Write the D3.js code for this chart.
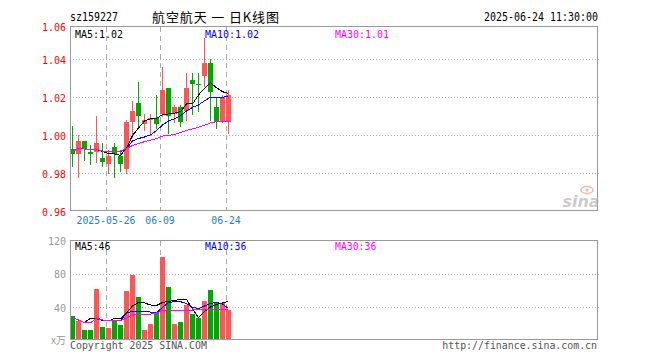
<!DOCTYPE html>
<html><head><meta charset="utf-8">
<script src="https://cdn.jsdelivr.net/npm/d3@7"></script>
<style>body{margin:0;background:#fff}svg{display:block}</style>
</head><body><svg id="c" width="660" height="360"></svg>
<script>
// ---------- data ----------
const code = "sz159227";
const title = "航空航天 一 日K线图";
const stamp = "2025-06-24 11:30:00";
const dates = ["2025-05-16","2025-05-19","2025-05-20","2025-05-21","2025-05-22","2025-05-23","2025-05-26","2025-05-27","2025-05-28","2025-05-29","2025-05-30","2025-06-03","2025-06-04","2025-06-05","2025-06-06","2025-06-09","2025-06-10","2025-06-11","2025-06-12","2025-06-13","2025-06-16","2025-06-17","2025-06-18","2025-06-19","2025-06-20","2025-06-23","2025-06-24"];
const open  = [0.993,0.990,0.997,0.991,0.991,0.988,0.985,0.994,0.989,0.982,1.007,1.017,1.006,1.008,1.009,1.011,1.025,1.011,1.015,1.013,1.029,1.027,1.031,1.038,1.015,1.007,1.007];
const close = [0.990,0.997,0.993,0.990,0.996,0.986,0.989,0.990,0.985,1.007,1.013,1.010,1.008,1.009,1.006,1.024,1.010,1.015,1.007,1.025,1.027,1.027,1.038,1.023,1.007,1.020,1.021];
const high  = [1.005,1.000,0.997,0.995,1.010,0.996,0.992,0.996,0.992,1.008,1.018,1.028,1.011,1.011,1.021,1.036,1.025,1.016,1.016,1.033,1.033,1.033,1.051,1.040,1.020,1.021,1.024];
const low   = [0.984,0.978,0.987,0.985,0.986,0.984,0.980,0.978,0.981,0.980,0.999,1.005,1.003,1.000,1.004,1.010,1.001,1.007,1.005,1.008,1.011,1.013,1.026,1.008,1.004,1.007,1.001];
const ma5   = [0.9912,0.9932,0.9928,0.9926,0.9926,0.9914,0.9904,0.9902,0.9894,0.9933,0.9999,1.0038,1.0075,1.0086,1.0088,1.0109,1.0112,1.0117,1.0124,1.0165,1.0165,1.0212,1.0247,1.0277,1.0250,1.0229,1.0221];
const ma10  = [0.9912,0.9932,0.9928,0.9926,0.9926,0.9917,0.9914,0.9914,0.9915,0.9928,0.9970,0.9983,0.9991,1.0002,1.0025,1.0054,1.0075,1.0086,1.0102,1.0128,1.0147,1.0159,1.0182,1.0200,1.0200,1.0200,1.0207];
const ma30  = [0.9912,0.9932,0.9928,0.9926,0.9926,0.9917,0.9914,0.9914,0.9915,0.9931,0.9946,0.9957,0.9966,0.9974,0.9983,0.9996,1.0000,1.0004,1.0015,1.0025,1.0034,1.0042,1.0053,1.0065,1.0072,1.0072,1.0072];
const volume = [29.9,24.2,13.1,13.1,62.1,16.7,15.5,24.2,19.1,59.7,78.8,52.5,13.1,20.3,33.8,100.7,64.5,20.3,22.7,43.0,32.6,27.5,47.8,60.9,46.6,45.7,37.0];
const vma5  = [28.1,25.1,22.1,27.1,26.3,24.5,23.9,27.1,27.1,33.4,41.8,46.0,45.4,43.0,42.4,46.0,47.2,48.4,49.6,49.6,38.2,28.1,35.2,40.6,43.6,45.4,47.2];
const vma10 = [28.1,25.1,22.1,21.5,27.5,25.1,24.2,24.2,24.5,33.1,35.8,35.8,35.2,34.6,33.8,40.0,46.0,46.9,46.9,44.8,40.2,38.8,41.8,44.8,46.0,44.2,38.8];
const vma30 = [28.1,25.1,22.1,21.5,27.5,25.1,24.2,24.2,24.5,27.1,32.2,32.2,32.2,32.2,33.4,36.4,36.2,36.2,36.2,36.4,37.0,37.6,37.6,37.9,37.9,37.9,37.6];
const priceMALabels = [1.02, 1.02, 1.01];
const volMALabels = [46, 36, 36];
const maNames = ["MA5","MA10","MA30"];
const priceMin = 0.96, priceTop = 1.0575;
const priceTicks = [0.96, 0.98, 1.00, 1.02, 1.04, priceTop];
const priceGrid = [0.98, 1.00, 1.02, 1.04];
const volTicks = [40, 80, 120];
const volGrid = [40, 80];
const volUnit = "x万";
const dateTicks = ["2025-05-26","2025-06-09","2025-06-24"];
const dateTickLabels = ["2025-05-26","06-09","06-24"];
const copyright = "Copyright 2025 SINA.COM";
const site = "http://finance.sina.com.cn";

// ---------- style ----------
const RED = "#ff5555", GREEN = "#00a800";
const maColors = ["#000000", "#0000ff", "#ff00ff"];
const FRAME = "#999999", GRID = "#aaaaaa";
const MONO = "'DejaVu Sans Mono', monospace";
const L = 70, R = 597, mTop = 26, mBot = 210, vTop = 240, vBot = 339;

const svg = d3.select("#c");
const x = d3.scaleBand().domain(dates).range([69, 69 + 6 * dates.length]).padding(0);
const cx = d => x(d) + 3.5;
const y = d3.scaleLinear().domain([priceMin, priceTop]).range([211.3, 26]);
const vy = d3.scaleLinear().domain([0, 120]).range([341, 240.5]);
const px = v => Math.floor(v) + 0.5;

function mono(sel, size, adv) {
  sel.attr("font-family", MONO).attr("font-size", size + "px");
  if (adv) sel.each(function() {
    const t = d3.select(this).text();
    d3.select(this).attr("textLength", t.length * adv).attr("lengthAdjust", "spacingAndGlyphs");
  });
  return sel;
}

// header
mono(svg.append("text").attr("x", 70).attr("y", 21).text(code), 12, 6);
svg.append("text").attr("x", 152).attr("y", 22).attr("font-family", "'Noto Sans CJK SC', sans-serif")
  .attr("font-size", "13px").attr("textLength", 127).attr("lengthAdjust", "spacing").text(title);
mono(svg.append("text").attr("x", 598).attr("y", 21).attr("text-anchor", "end").text(stamp), 12, 6);

// gridlines
const g = svg.append("g").attr("shape-rendering", "crispEdges");
g.selectAll(".pg").data(priceGrid).join("line")
  .attr("x1", L).attr("x2", R + 2).attr("y1", d => px(y(d))).attr("y2", d => px(y(d)))
  .attr("stroke", GRID).attr("stroke-dasharray", "1,2");
g.selectAll(".vg").data(volGrid).join("line")
  .attr("x1", L).attr("x2", R + 2).attr("y1", d => px(vy(d))).attr("y2", d => px(vy(d)))
  .attr("stroke", GRID).attr("stroke-dasharray", "1,2");
[[mTop, mBot], [vTop, vBot]].forEach(([t, b]) => {
  g.append("g").selectAll("line").data(dateTicks).join("line")
    .attr("x1", d => x(d) + 1.5).attr("x2", d => x(d) + 1.5)
    .attr("y1", t + 1).attr("y2", b)
    .attr("stroke", GRID).attr("stroke-dasharray", "5,4");
});

// candles
const idx = d3.range(dates.length);
const col = i => close[i] > open[i] ? RED : GREEN;
const cg = svg.append("g").attr("shape-rendering", "crispEdges");
cg.selectAll(".wick").data(idx).join("line")
  .attr("x1", i => cx(dates[i])).attr("x2", i => cx(dates[i]))
  .attr("y1", i => Math.round(y(high[i]))).attr("y2", i => Math.round(y(low[i])) + 1)
  .attr("stroke", col);
cg.selectAll(".body").data(idx).join("rect")
  .attr("x", i => x(dates[i]) + 1).attr("width", 5)
  .attr("y", i => Math.round(y(Math.max(open[i], close[i]))))
  .attr("height", i => Math.max(1, Math.round(y(Math.min(open[i], close[i]))) - Math.round(y(Math.max(open[i], close[i])))))
  .attr("fill", col);

// price MA lines
[ma5, ma10, ma30].forEach((arr, k) => {
  svg.append("path").datum(idx)
    .attr("d", d3.line().x(i => cx(dates[i])).y(i => y(arr[i])))
    .attr("fill", "none").attr("stroke", maColors[k]).attr("stroke-width", 1)
    .attr("shape-rendering", "crispEdges");
});

// volume bars
cg.selectAll(".vb").data(idx).join("rect")
  .attr("x", i => x(dates[i]) + 1).attr("width", 5)
  .attr("y", i => Math.round(vy(volume[i])))
  .attr("height", i => vBot + 1 - Math.round(vy(volume[i])))
  .attr("fill", col);
[vma5, vma10, vma30].forEach((arr, k) => {
  svg.append("path").datum(idx)
    .attr("d", d3.line().x(i => cx(dates[i])).y(i => vy(arr[i])))
    .attr("fill", "none").attr("stroke", maColors[k]).attr("stroke-width", 1)
    .attr("shape-rendering", "crispEdges");
});

// frames
const fr = svg.append("g").attr("shape-rendering", "crispEdges").attr("fill", "none").attr("stroke", FRAME);
fr.append("rect").attr("x", L + 0.5).attr("y", mTop + 0.5).attr("width", R - L).attr("height", mBot - mTop);
fr.append("rect").attr("x", L + 0.5).attr("y", vTop + 0.5).attr("width", R - L).attr("height", vBot - vTop);

// price axis labels
const ya = svg.append("g").attr("transform", `translate(${L},1)`)
  .call(d3.axisLeft(y).tickValues(priceTicks).tickFormat(d3.format(".2f")).tickSize(0).tickPadding(4));
ya.select(".domain").remove();
ya.selectAll("text").attr("fill", "#ff0000").attr("font-family", MONO).attr("font-size", "10px");

// volume axis labels
const va = svg.append("g").attr("transform", `translate(${L},0.5)`)
  .call(d3.axisLeft(vy).tickValues(volTicks).tickFormat(d3.format("d")).tickSize(0).tickPadding(4));
va.select(".domain").remove();
va.selectAll("text").attr("fill", "#999999").attr("font-family", MONO).attr("font-size", "10px");
svg.append("text").attr("x", 66).attr("y", 344).attr("text-anchor", "end").attr("fill", "#999999")
  .attr("font-family", "'Noto Sans CJK SC', sans-serif").attr("font-size", "10px").text(volUnit);

// date axis
const labelOf = d3.scaleOrdinal().domain(dateTicks).range(dateTickLabels);
const xa = svg.append("g").attr("transform", `translate(-2,${mBot + 1})`)
  .call(d3.axisBottom(x).tickValues(dateTicks).tickFormat(labelOf).tickSize(0).tickPadding(5));
xa.select(".domain").remove();
xa.selectAll("text").attr("fill", "#1a80d0").attr("font-family", MONO).attr("font-size", "11px")
  .each(function() { const t = d3.select(this).text(); d3.select(this).attr("textLength", t.length * 5.9).attr("lengthAdjust", "spacingAndGlyphs"); });

// MA legends
const legX = [75, 205, 335];
maNames.forEach((n, k) => {
  mono(svg.append("text").attr("x", legX[k]).attr("y", 38).attr("fill", maColors[k])
    .text(n + ":" + d3.format(".2f")(priceMALabels[k])), 11, 6);
  mono(svg.append("text").attr("x", legX[k]).attr("y", 250).attr("fill", maColors[k])
    .text(n + ":" + volMALabels[k]), 10, 5.9);
});

// footer
mono(svg.append("text").attr("x", 70).attr("y", 349).attr("fill", "#555").text(copyright), 10, 5.95);
mono(svg.append("text").attr("x", 597).attr("y", 349).attr("text-anchor", "end").attr("fill", "#555").text(site), 10, 5.95);

// sina watermark
const wm = svg.append("g").attr("opacity", 0.6);
wm.append("ellipse").attr("cx", 587).attr("cy", 190).attr("rx", 6).attr("ry", 3.5)
  .attr("fill", "none").attr("stroke", "#d88").attr("stroke-width", 1.5);
wm.append("circle").attr("cx", 587).attr("cy", 190).attr("r", 1.5).attr("fill", "#d88");
wm.append("text").attr("x", 581).attr("y", 207).attr("text-anchor", "middle")
  .attr("font-family", "'DejaVu Sans', sans-serif").attr("font-style", "italic").attr("font-weight", "bold")
  .attr("font-size", "16px").attr("fill", "#aaa").text("sina");
</script></body></html>
